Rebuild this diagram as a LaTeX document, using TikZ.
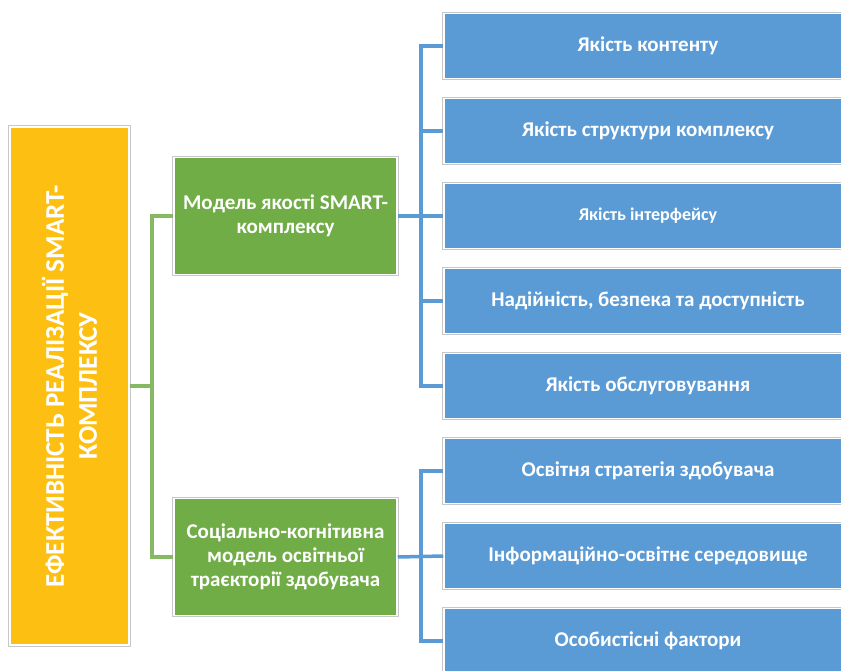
\documentclass[tikz,border=0pt]{standalone}
\usepackage{fontspec}
\setmainfont{Carlito}
\usepackage{xcolor}
\usepackage{tikz}
\usetikzlibrary{positioning, calc}
\definecolor{gold}{HTML}{FCBF12}
\definecolor{leaf}{HTML}{70AD47}
\definecolor{sky}{HTML}{5B9BD5}
\definecolor{frame}{HTML}{C8C8C8}
\tikzstyle{card} = [rectangle, draw=white, line width=1.5pt, preaction={draw=frame, line width=3.5pt}, text=white, align=center, inner sep=2pt]
\tikzstyle{goal} = [card, fill=gold, minimum width=518pt, minimum height=119pt, rotate=90, font=\bfseries\fontsize{27}{33}\selectfont]
\tikzstyle{model} = [card, fill=leaf, minimum width=223pt, minimum height=117pt, font=\bfseries\fontsize{21}{24}\selectfont]
\tikzstyle{factor} = [card, fill=sky, minimum width=408pt, minimum height=65pt, font=\bfseries\fontsize{21}{24}\selectfont]
\tikzstyle{greenlink} = [line width=3.5pt, leaf!85]
\tikzstyle{bluelink} = [line width=3.5pt, sky]

\begin{document}
\begin{tikzpicture}[x=1pt, y=-1pt, node distance=18.5pt]
    \path[use as bounding box, clip] (0,0) rectangle (841,671);

    % Main goal
    \node (goal) [goal] at (69.5,386) {ЕФЕКТИВНІСТЬ РЕАЛІЗАЦІЇ SMART-\\КОМПЛЕКСУ};

    % Models
    \node (smart) [model] at (285.5,216) {Модель якості SMART-\\комплексу};
    \node (learner) [model] at (285.5,557) {Соціально-когнітивна\\модель освітньої\\траєкторії здобувача};

    % Quality factors
    \node (content) [factor] at (648,46) {Якість контенту};
    \node (structure) [factor, below=of content] {Якість структури комплексу};
    \node (interface) [factor, below=of structure, font=\bfseries\fontsize{18}{22}\selectfont] {Якість інтерфейсу};
    \node (safety) [factor, below=of interface] {Надійність, безпека та доступність};
    \node (service) [factor, below=of safety] {Якість обслуговування};

    % Learner factors
    \node (strategy) [factor, below=of service] {Освітня стратегія здобувача};
    \node (environment) [factor, below=of strategy] {Інформаційно-освітнє середовище};
    \node (personal) [factor, below=of environment] {Особистісні фактори};

    % Junctions
    \coordinate (gj) at (152,386);
    \coordinate (bj1) at (421,216);
    \coordinate (bj2) at (421,557);

    % Green links
    \draw [greenlink] (goal.south) -- (gj);
    \draw [greenlink] (gj) |- (smart.west);
    \draw [greenlink] (gj) |- (learner.west);

    % Blue links
    \draw [bluelink] (smart.east) -- (interface.west);
    \draw [bluelink] (bj1) |- (content.west);
    \draw [bluelink] (bj1) |- (structure.west);
    \draw [bluelink] (bj1) |- (safety.west);
    \draw [bluelink] (bj1) |- (service.west);
    \draw [bluelink] (learner.east) -- (environment.west);
    \draw [bluelink] (bj2) |- (strategy.west);
    \draw [bluelink] (bj2) |- (personal.west);

\end{tikzpicture}
\end{document}
